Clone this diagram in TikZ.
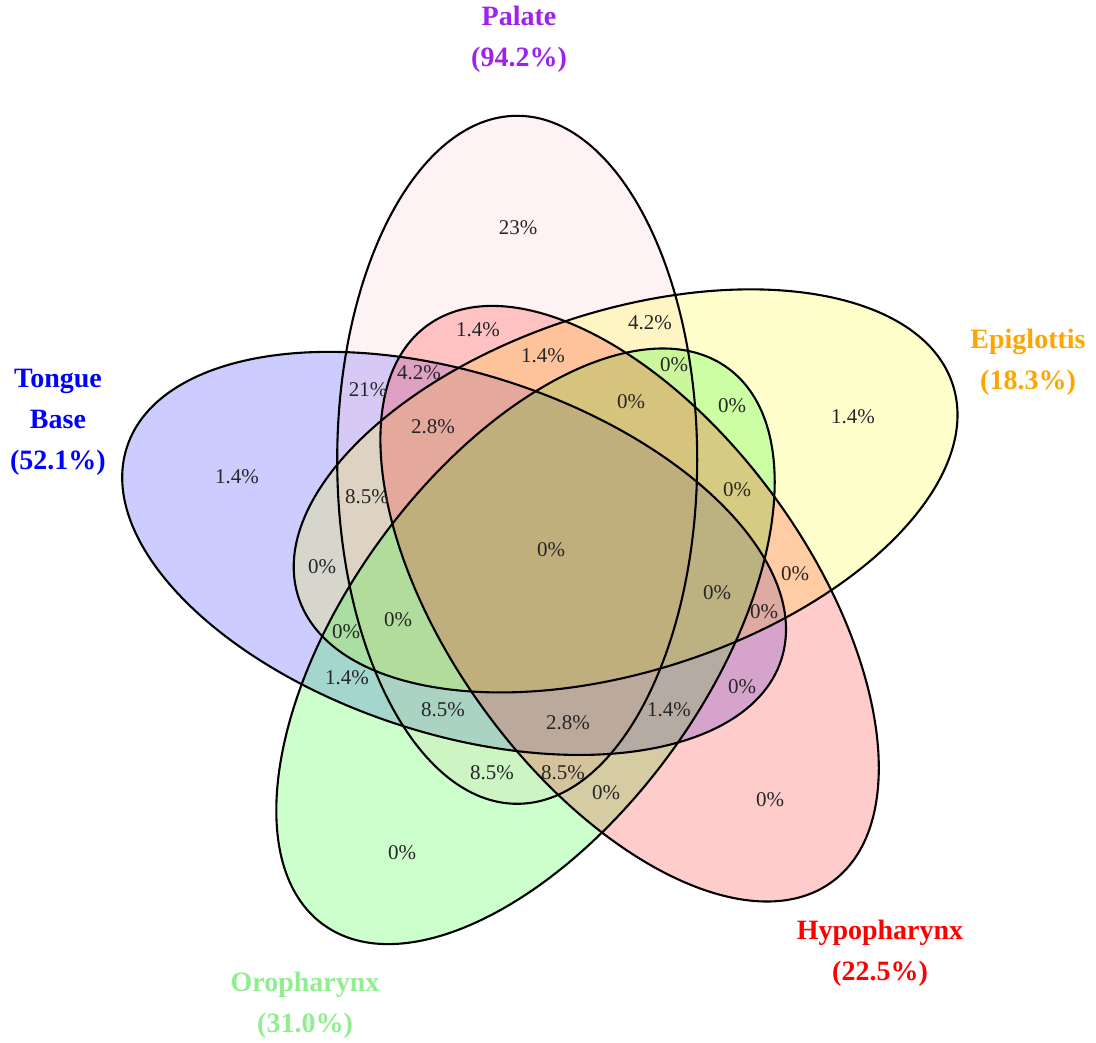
\documentclass[tikz,border=0pt]{standalone}
\usepackage{fontspec}
\setmainfont{Liberation Serif}
\definecolor{vblue}{RGB}{0,0,255}
\definecolor{vpink}{RGB}{255,192,203}
\definecolor{vyellow}{RGB}{255,255,0}
\definecolor{vgreen}{RGB}{0,255,0}
\definecolor{vred}{RGB}{255,0,0}
\definecolor{vpurple}{RGB}{160,32,240}
\definecolor{vorange}{RGB}{255,165,0}
\definecolor{vlgreen}{RGB}{144,238,144}
\begin{document}
\begin{tikzpicture}[x=1pt,y=-1pt,
  setfill/.style={fill=#1, fill opacity=0.2, draw=none},
  setline/.style={draw=black, line width=2.1pt},
  num/.style={font=\fontsize{21}{25}\selectfont, text=black!85, inner sep=0pt},
  setlabel/.style={font=\fontsize{28}{41}\selectfont\bfseries, align=center, inner sep=0pt, text=#1}]
\useasboundingbox (0,0) rectangle (1096,1043);
% fills (order: Tongue Base, Palate, Epiglottis, Oropharynx, Hypopharynx)
\path[setfill=vblue, rotate around={-18:(454.1,553.4)}] (454.1,553.4) ellipse [x radius=344pt, y radius=180pt];
\path[setfill=vpink] (517.2,459.8) ellipse [x radius=180pt, y radius=344pt];
\path[setfill=vyellow, rotate around={18:(625.6,490.9)}] (625.6,490.9) ellipse [x radius=344pt, y radius=180pt];
\path[setfill=vgreen, rotate around={54:(525.5,646.3)}] (525.5,646.3) ellipse [x radius=344pt, y radius=180pt];
\path[setfill=vred, rotate around={-54:(629.6,603.7)}] (629.6,603.7) ellipse [x radius=344pt, y radius=180pt];
% outlines
\path[setline, rotate around={-18:(454.1,553.4)}] (454.1,553.4) ellipse [x radius=344pt, y radius=180pt];
\path[setline] (517.2,459.8) ellipse [x radius=180pt, y radius=344pt];
\path[setline, rotate around={18:(625.6,490.9)}] (625.6,490.9) ellipse [x radius=344pt, y radius=180pt];
\path[setline, rotate around={54:(525.5,646.3)}] (525.5,646.3) ellipse [x radius=344pt, y radius=180pt];
\path[setline, rotate around={-54:(629.6,603.7)}] (629.6,603.7) ellipse [x radius=344pt, y radius=180pt];
% set labels
\node[setlabel=vpurple] (lpal) at (519,39) {Palate\\(94.2\%)};
\node[setlabel=vblue] (ltb) at (58,422) {Tongue\\Base\\(52.1\%)};
\node[setlabel=vorange] (lepi) at (1028,362) {Epiglottis\\(18.3\%)};
\node[setlabel=vred] (lhyp) at (880,953) {Hypopharynx\\(22.5\%)};
\node[setlabel=vlgreen] (loro) at (305,1005) {Oropharynx\\(31.0\%)};
% region values
\node[num] (r1) at (518,228) {23\%};
\node[num] (r2) at (478,330) {1.4\%};
\node[num] (r3) at (650,323) {4.2\%};
\node[num] (r4) at (543,356) {1.4\%};
\node[num] (r5) at (674,365) {0\%};
\node[num] (r6) at (419,373) {4.2\%};
\node[num] (r7) at (368,390) {21\%};
\node[num] (r8) at (631,402) {0\%};
\node[num] (r9) at (732,406) {0\%};
\node[num] (r10) at (853,417) {1.4\%};
\node[num] (r11) at (433,427) {2.8\%};
\node[num] (r12) at (237,477) {1.4\%};
\node[num] (r13) at (367,497) {8.5\%};
\node[num] (r14) at (737,490) {0\%};
\node[num] (r15) at (551,550) {0\%};
\node[num] (r16) at (322,567) {0\%};
\node[num] (r17) at (795,574) {0\%};
\node[num] (r18) at (717,593) {0\%};
\node[num] (r19) at (764,612) {0\%};
\node[num] (r20) at (398,620) {0\%};
\node[num] (r21) at (346,632) {0\%};
\node[num] (r22) at (742,687) {0\%};
\node[num] (r23) at (347,678) {1.4\%};
\node[num] (r24) at (443,710) {8.5\%};
\node[num] (r25) at (568,723) {2.8\%};
\node[num] (r26) at (669,710) {1.4\%};
\node[num] (r27) at (492,773) {8.5\%};
\node[num] (r28) at (563,773) {8.5\%};
\node[num] (r29) at (606,793) {0\%};
\node[num] (r30) at (770,800) {0\%};
\node[num] (r31) at (402,853) {0\%};
\end{tikzpicture}
\end{document}
